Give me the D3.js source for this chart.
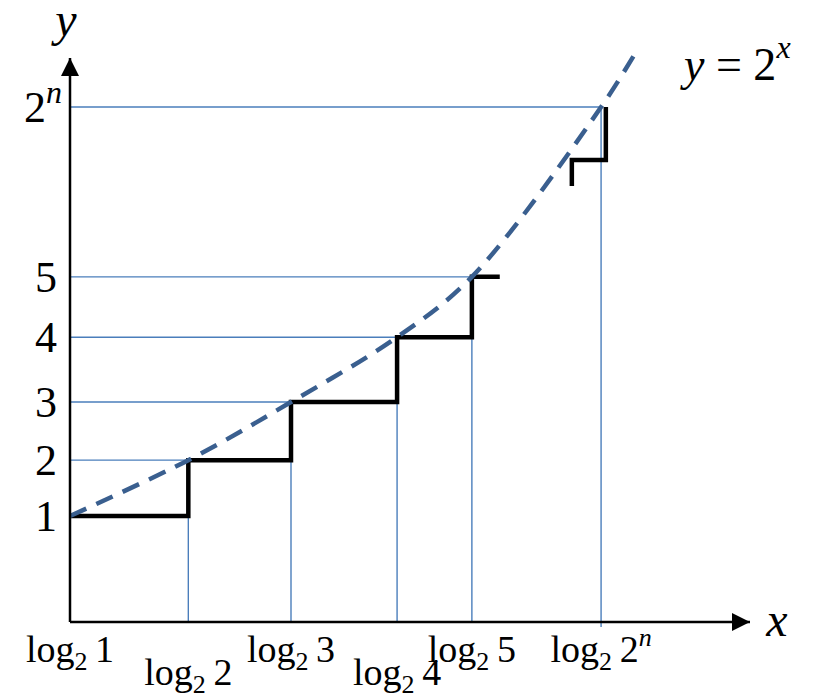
<!DOCTYPE html>
<html>
<head>
<meta charset="utf-8">
<script src="https://cdn.jsdelivr.net/npm/d3@7"></script>
<style>
  body { margin: 0; background: #fff; }
  text { font-family: "Liberation Serif", "DejaVu Serif", serif; }
</style>
</head>
<body>
<div id="canvas"></div>
<script>
// schematic units (the picture is not drawn to a true scale)
var xArgs = ["1", "2", "3", "4", "5", "2n"];
var xVals = [0, 17.4, 32.5, 48.1, 59.1, 78.1];
var yLabels = ["1", "2", "3", "4", "5", "2n"];
var yVals = [18.8, 28.7, 39.0, 50.5, 61.2, 91.3];
var labelLow = [false, true, false, true, false, false];
// curve carries on past the last point
var curveTail = [83.4, 101.4];
// little pieces of staircase around the gap
var stubRight = 63.2;
var topStepX = [73.8, 73.8, 78.8, 78.8];
var topStepY = [77.3, 81.9, 81.9, 91.3];

var width = 827, height = 695;
var originX = 70, originY = 622;

var svg = d3.select("#canvas").append("svg")
  .attr("width", width)
  .attr("height", height);

var x = d3.scaleLinear().domain([0, 100]).range([originX, 750]);
var y = d3.scaleLinear().domain([0, 100]).range([originY, 58]);

svg.append("defs").append("marker").attr("id", "arrow")
  .attr("viewBox", "0 0 10 10").attr("refX", 10).attr("refY", 5)
  .attr("markerWidth", 18).attr("markerHeight", 18)
  .attr("markerUnits", "userSpaceOnUse")
  .attr("orient", "auto")
  .append("path").attr("d", "M0,0L10,5L0,10Z").attr("fill", "black");

var blue = "#4a7ebb";

// thin guide lines
var guides = svg.append("g").attr("stroke", blue).attr("stroke-width", 1.4);
xVals.forEach(function(v, i) {
  guides.append("line")
    .attr("x1", x(0)).attr("y1", y(yVals[i]))
    .attr("x2", x(v)).attr("y2", y(yVals[i]));
  if (i > 0) {
    guides.append("line")
      .attr("x1", x(v)).attr("y1", y(yVals[i]))
      .attr("x2", x(v)).attr("y2", i == xVals.length - 1 ? originY + 5 : originY);
  }
});

// staircase
var step = [];
for (var i = 0; i < 5; i++) {
  step.push([xVals[i], yVals[i]]);
  var nx = i < 4 ? xVals[i + 1] : stubRight;
  step.push([nx, yVals[i]]);
}
var line = d3.line().x(function(d){ return x(d[0]); }).y(function(d){ return y(d[1]); });
svg.append("path")
  .attr("d", line(step))
  .attr("fill", "none").attr("stroke", "black").attr("stroke-width", 4.5);
svg.append("path")
  .attr("d", line(topStepX.map(function(v, i){ return [v, topStepY[i]]; })))
  .attr("fill", "none").attr("stroke", "black").attr("stroke-width", 4.5);

// dashed y = 2^x
var curvePts = xVals.map(function(v, i){ return [v, yVals[i]]; });
curvePts.push(curveTail);
svg.append("path")
  .attr("d", line.curve(d3.curveCatmullRom)(curvePts))
  .attr("fill", "none").attr("stroke", "#3a5f8f").attr("stroke-width", 4.5)
  .attr("stroke-dasharray", "18,11");

// axes
svg.append("line")
  .attr("x1", originX).attr("y1", originY).attr("x2", originX).attr("y2", y(100))
  .attr("stroke", "black").attr("stroke-width", 2.5).attr("marker-end", "url(#arrow)");
svg.append("line")
  .attr("x1", originX).attr("y1", originY).attr("x2", x(100)).attr("y2", originY)
  .attr("stroke", "black").attr("stroke-width", 2.5).attr("marker-end", "url(#arrow)");

// y labels
yLabels.forEach(function(l, i) {
  var t = svg.append("text")
    .attr("x", 57).attr("y", y(yVals[i]) + 15)
    .attr("text-anchor", "end").attr("font-size", 44);
  if (l == "2n") {
    t.attr("x", 62);
    t.append("tspan").text("2");
    t.append("tspan").attr("dy", -19).attr("font-size", 32).attr("font-style", "italic").text("n");
  } else {
    t.text(l);
  }
});

// x labels
xArgs.forEach(function(a, i) {
  var t = svg.append("text")
    .attr("x", x(xVals[i])).attr("y", labelLow[i] ? 685 : 662)
    .attr("text-anchor", "middle").attr("font-size", 38);
  t.append("tspan").text("log");
  t.append("tspan").attr("dy", 8).attr("font-size", 26).text("2");
  if (a == "2n") {
    t.append("tspan").attr("dy", -8).text("\u20092");
    t.append("tspan").attr("dy", -16).attr("font-size", 26).attr("font-style", "italic").text("n");
  } else {
    t.append("tspan").attr("dy", -8).text("\u2009" + a);
  }
});

// axis names and curve label
svg.append("text").attr("x", 66).attr("y", 36).attr("text-anchor", "middle")
  .attr("font-size", 48).attr("font-style", "italic").text("y");
svg.append("text").attr("x", 777).attr("y", 636).attr("text-anchor", "middle")
  .attr("font-size", 48).attr("font-style", "italic").text("x");
var eq = svg.append("text").attr("x", 684).attr("y", 80).attr("font-size", 46);
eq.append("tspan").attr("font-style", "italic").text("y");
eq.append("tspan").text(" = 2");
eq.append("tspan").attr("dy", -22).attr("font-size", 32).attr("font-style", "italic").text("x");
</script>
</body>
</html>
